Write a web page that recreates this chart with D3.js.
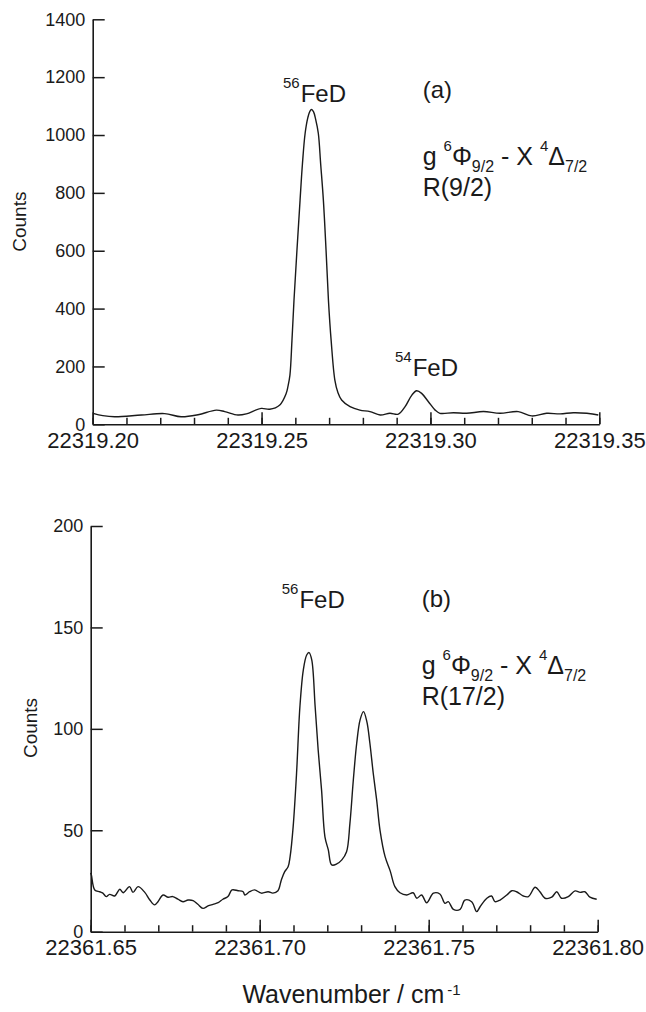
<!DOCTYPE html>
<html>
<head>
<meta charset="utf-8">
<script src="https://cdn.jsdelivr.net/npm/d3@7"></script>
<style>
  html, body { margin: 0; padding: 0; background: #fff; }
  svg text { font-family: "Liberation Sans", Arial, Helvetica, sans-serif; fill: #1a1a1a; white-space: pre; }
</style>
</head>
<body>
<div class="figure"></div>
<script>
// panel (a): g6Phi9/2 - X4Delta7/2 R(9/2)
var waveA = [22319.2001, 22319.2030, 22319.2065, 22319.2144, 22319.2213, 22319.2262, 22319.2312, 22319.2366,
  22319.2391, 22319.2430, 22319.2455, 22319.2499, 22319.2524, 22319.2554, 22319.2573, 22319.2578,
  22319.2584, 22319.2590, 22319.2596, 22319.2614, 22319.2621, 22319.2629, 22319.2637, 22319.2643,
  22319.2648, 22319.2654, 22319.2660, 22319.2668, 22319.2675, 22319.2683, 22319.2691, 22319.2698,
  22319.2706, 22319.2717, 22319.2726, 22319.2737, 22319.2762, 22319.2791, 22319.2821, 22319.2851,
  22319.2880, 22319.2905, 22319.2925, 22319.2945, 22319.2959, 22319.2974, 22319.2994, 22319.3014,
  22319.3028, 22319.3068, 22319.3107, 22319.3157, 22319.3206, 22319.3260, 22319.3300, 22319.3344,
  22319.3384, 22319.3423, 22319.3463, 22319.3497];
var countsA = [38, 30, 26, 32, 37, 26, 33, 49,
  44, 32, 36, 55, 52, 67, 107, 130,
  170, 290, 429, 775, 900, 1006, 1060, 1082,
  1088, 1080, 1055, 1006, 900, 775, 600, 429,
  290, 153, 110, 84, 61, 49, 44, 32,
  38, 35, 61, 101, 116, 107, 78, 49,
  38, 40, 38, 44, 38, 44, 29, 38,
  36, 40, 38, 32];

// panel (b): R(17/2)
var waveB = [22361.6500, 22361.6502, 22361.6512, 22361.6527, 22361.6536, 22361.6546, 22361.6556, 22361.6571,
  22361.6586, 22361.6596, 22361.6615, 22361.6625, 22361.6640, 22361.6660, 22361.6675, 22361.6689,
  22361.6699, 22361.6714, 22361.6729, 22361.6743, 22361.6758, 22361.6773, 22361.6788, 22361.6803,
  22361.6817, 22361.6832, 22361.6847, 22361.6862, 22361.6877, 22361.6891, 22361.6906, 22361.6918,
  22361.6936, 22361.6951, 22361.6956, 22361.6970, 22361.6985, 22361.7005, 22361.7025, 22361.7039,
  22361.7054, 22361.7064, 22361.7074, 22361.7084, 22361.7090, 22361.7099, 22361.7109, 22361.7119,
  22361.7129, 22361.7139, 22361.7146, 22361.7154, 22361.7164, 22361.7173, 22361.7183, 22361.7193,
  22361.7203, 22361.7213, 22361.7228, 22361.7243, 22361.7257, 22361.7267, 22361.7277, 22361.7287,
  22361.7297, 22361.7307, 22361.7317, 22361.7326, 22361.7336, 22361.7346, 22361.7356, 22361.7371,
  22361.7386, 22361.7400, 22361.7415, 22361.7435, 22361.7454, 22361.7465, 22361.7479, 22361.7494,
  22361.7514, 22361.7533, 22361.7548, 22361.7558, 22361.7573, 22361.7593, 22361.7607, 22361.7627,
  22361.7642, 22361.7652, 22361.7672, 22361.7686, 22361.7696, 22361.7711, 22361.7731, 22361.7746,
  22361.7760, 22361.7780, 22361.7795, 22361.7815, 22361.7829, 22361.7844, 22361.7864, 22361.7879,
  22361.7893, 22361.7913, 22361.7933, 22361.7948, 22361.7962, 22361.7977, 22361.7997];
var countsB = [29, 28, 20.6, 19.7, 19, 17.3, 18.4, 17.6,
  20.9, 19.2, 22.2, 19.4, 22.2, 19.4, 15.6, 13.2,
  14.8, 18.1, 17, 17.3, 16, 14.8, 15.6, 15.3,
  13.5, 11.5, 12.7, 13.5, 14.3, 16, 17.3, 20.6,
  20.2, 19.7, 18.1, 19.7, 20.6, 19, 19.7, 19,
  20.2, 25.5, 29.6, 32, 37, 51.8, 78, 111,
  129, 136.4, 137.6, 134, 111, 89.6, 69.9, 46.8,
  40.3, 32.9, 33.4, 35.4, 39.4, 53.5, 74.8, 92.9,
  104.4, 108.5, 103.6, 92.9, 78, 65, 50, 37,
  30, 22.2, 19.2, 18.1, 19.2, 16.5, 18.1, 14.3,
  19, 18.6, 14, 14.8, 11, 11, 15.6, 14.8,
  9.9, 12.3, 16.5, 17.6, 14.8, 15.6, 18.1, 20.2,
  19.7, 17.6, 17.3, 21.9, 19.7, 16.5, 17, 19.7,
  16.5, 17.3, 20.1, 19.4, 19.7, 17, 16];

var xTicksA = [22319.20, 22319.25, 22319.30, 22319.35];
var yTicksA = [0, 200, 400, 600, 800, 1000, 1200, 1400];
var xTicksB = [22361.65, 22361.70, 22361.75, 22361.80];
var yTicksB = [0, 50, 100, 150, 200];

var W = 646, H = 1012;
var svg = d3.select(".figure").append("svg")
  .attr("width", W)
  .attr("height", H);

//画一个面板
function drawPanel(opt) {
  var g = svg.append("g").attr("transform", "translate(" + opt.left + "," + opt.top + ")");

  var x = d3.scaleLinear().domain([opt.xTicks[0], opt.xTicks[opt.xTicks.length - 1]]).range([0, opt.w]);
  var y = d3.scaleLinear().domain([opt.yTicks[0], opt.yTicks[opt.yTicks.length - 1]]).range([opt.h, 0]);

  // minor x ticks every 0.01
  var minor = d3.range(0, 16).map(function(i) { return opt.xTicks[0] + i * 0.01; });
  g.append("g")
    .attr("transform", "translate(0," + opt.h + ")")
    .call(d3.axisBottom(x).tickValues(minor).tickSize(-6.5).tickSizeOuter(0).tickFormat(function() { return ""; }))
    .call(function(a) { a.select(".domain").remove(); a.selectAll("line").attr("stroke", "#1a1a1a").attr("stroke-width", 1.5); });

  var xa = g.append("g")
    .attr("transform", "translate(0," + opt.h + ")")
    .call(d3.axisBottom(x).tickValues(opt.xTicks).tickSize(-12).tickSizeOuter(0).tickPadding(8).tickFormat(d3.format(".2f")));
  xa.select(".domain").attr("stroke", "#1a1a1a").attr("stroke-width", 1.6);
  xa.selectAll("line").attr("stroke", "#1a1a1a").attr("stroke-width", 1.5);
  xa.selectAll("text").attr("font-size", 22).attr("fill", "#1a1a1a")
    .style("font-family", '"Liberation Sans", Arial, sans-serif');

  var ya = g.append("g")
    .call(d3.axisLeft(y).tickValues(opt.yTicks).tickSize(-12).tickSizeOuter(0).tickPadding(7.5).tickFormat(d3.format("d")));
  ya.select(".domain").attr("stroke", "#1a1a1a").attr("stroke-width", 1.6);
  ya.selectAll("line").attr("stroke", "#1a1a1a").attr("stroke-width", 1.5);
  ya.selectAll("text").attr("font-size", 18).attr("fill", "#1a1a1a")
    .style("font-family", '"Liberation Sans", Arial, sans-serif');

  var line = d3.line()
    .x(function(d) { return x(d[0]); })
    .y(function(d) { return y(d[1]); })
    .curve(d3.curveCatmullRom.alpha(0.5));

  g.append("path")
    .datum(d3.zip(opt.wave, opt.counts))
    .attr("fill", "none")
    .attr("stroke", "#1a1a1a")
    .attr("stroke-width", 1.4)
    .attr("stroke-linejoin", "round")
    .attr("d", line);

  // Counts
  g.append("text")
    .attr("transform", "translate(" + opt.countsX + "," + opt.countsY + ") rotate(-90)")
    .attr("text-anchor", "middle")
    .attr("font-size", 19)
    .text("Counts");

  return g;
}

//同位素标签 56FeD / 54FeD
function isoLabel(px, py, mass) {
  var t = svg.append("text").attr("x", px).attr("y", py).attr("font-size", 24);
  t.append("tspan").attr("font-size", 15).attr("dy", -14).text(mass);
  t.append("tspan").attr("dy", 14).attr("dx", 1).text("FeD");
}

//跃迁标签
function transLabel(px, py, tag, branch) {
  svg.append("text").attr("x", px).attr("y", py).attr("font-size", 24).text(tag);
  var t = svg.append("text").attr("x", px).attr("y", py + 67).attr("font-size", 25);
  t.append("tspan").text("g ");
  t.append("tspan").attr("font-size", 15).attr("dy", -14).text("6");
  t.append("tspan").attr("dy", 14).text("Φ");
  t.append("tspan").attr("font-size", 16).attr("dy", 6.5).text("9/2");
  t.append("tspan").attr("dy", -6.5).text(" - X ");
  t.append("tspan").attr("font-size", 15).attr("dy", -14).text("4");
  t.append("tspan").attr("dy", 14).text("Δ");
  t.append("tspan").attr("font-size", 16).attr("dy", 6.5).text("7/2");
  svg.append("text").attr("x", px).attr("y", py + 98).attr("font-size", 25).text(branch);
}

drawPanel({ left: 92.7, top: 19.3, w: 506.6, h: 405, xTicks: xTicksA, yTicks: yTicksA,
  wave: waveA, counts: countsA, countsX: -66.7, countsY: 202.4 });
drawPanel({ left: 90.7, top: 526, w: 507, h: 405.7, xTicks: xTicksB, yTicks: yTicksB,
  wave: waveB, counts: countsB, countsX: -54, countsY: 202 });

isoLabel(283, 101.5, "56");
isoLabel(395, 376, "54");
transLabel(422.7, 98, "(a)", "R(9/2)");

isoLabel(281.7, 608.3, "56");
transLabel(421.7, 607, "(b)", "R(17/2)");

// x axis title
var xt = svg.append("text").attr("x", 351.5).attr("y", 1003.3).attr("font-size", 25).attr("text-anchor", "middle");
xt.append("tspan").text("Wavenumber / cm");
xt.append("tspan").attr("font-size", 15).attr("dy", -8).attr("dx", 3).text("-1");
</script>
</body>
</html>
